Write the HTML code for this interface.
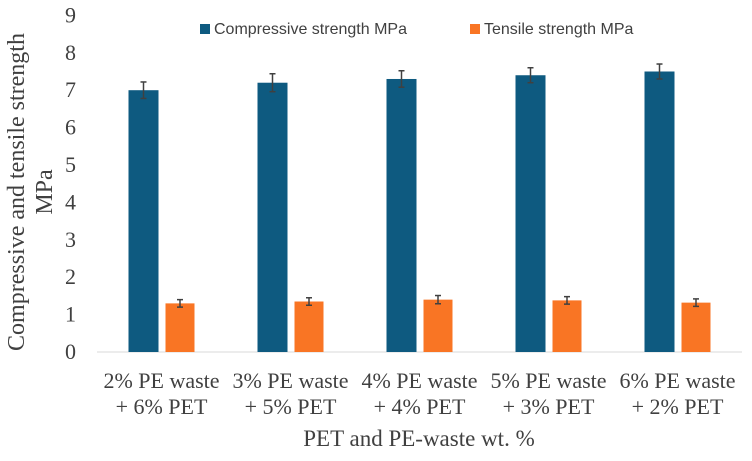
<!DOCTYPE html>
<html><head><meta charset="utf-8"><style>
body{margin:0;background:#fff}
</style></head><body>
<svg id="c" width="752" height="456" font-family="'Liberation Serif', serif"></svg>
<script>
const categories=[["2% PE waste","+ 6% PET"],["3% PE waste","+ 5% PET"],["4% PE waste","+ 4% PET"],["5% PE waste","+ 3% PET"],["6% PE waste","+ 2% PET"]];
const compressive=[7.0,7.2,7.3,7.4,7.5];
const compressiveErr=[0.22,0.24,0.22,0.2,0.2];
const tensile=[1.3,1.35,1.4,1.38,1.32];
const tensileErr=[0.1,0.1,0.11,0.1,0.1];
const yTicks=[0,1,2,3,4,5,6,7,8,9];
const svg=document.getElementById('c');
const NS='http://www.w3.org/2000/svg';
const x0=97,x1=742,y0=352,unit=37.4;
const step=(x1-x0)/categories.length;
const y=v=>y0-v*unit;
const SERIF="'Liberation Serif', serif";
function mk(t,a,p){const e=document.createElementNS(NS,t);for(const k in a)e.setAttribute(k,a[k]);(p||svg).appendChild(e);return e;}
yTicks.forEach(t=>{const e=mk('text',{x:76,y:y(t)+7,'text-anchor':'end','font-size':22,'font-family':SERIF,fill:'#404040'});e.textContent=t;

});
const ax=mk('line',{x1:x0,x2:x1,y1:y0,y2:y0,stroke:'#d9d9d9','stroke-width':1});


function err(cx,v,e){const g=mk('g',{stroke:'#404040','stroke-width':1.5});


mk('line',{x1:cx,x2:cx,y1:y(v+e),y2:y(v-e)},g);mk('line',{x1:cx-3,x2:cx+3,y1:y(v+e),y2:y(v+e)},g);mk('line',{x1:cx-3,x2:cx+3,y1:y(v-e),y2:y(v-e)},g);}
categories.forEach((c,i)=>{const cx=x0+step*(i+0.5);
const b1=mk('rect',{x:cx-33,y:y(compressive[i]),width:30,height:compressive[i]*unit,fill:'#0e5a80'});


const b2=mk('rect',{x:cx+4,y:y(tensile[i]),width:29,height:tensile[i]*unit,fill:'#f97524'});


err(cx-18,compressive[i],compressiveErr[i]);err(cx+18.5,tensile[i],tensileErr[i]);
c.forEach((l,j)=>{const t=mk('text',{x:cx,y:388+j*26,'text-anchor':'middle','font-size':22,'font-family':SERIF,fill:'#404040'});t.textContent=l;

});});
const xt=mk('text',{x:419,y:446,'text-anchor':'middle','font-size':23,'font-family':SERIF,fill:'#404040'});xt.textContent='PET and PE-waste wt. %';


const yt=mk('text',{'text-anchor':'middle','font-size':24,'font-family':SERIF,fill:'#404040',transform:'translate(0,192) rotate(-90)'});


const s1=mk('tspan',{x:0,y:24},yt);s1.textContent='Compressive  and tensile strength';
const s2=mk('tspan',{x:0,y:52},yt);s2.textContent='MPa';
const legend=[['Compressive strength MPa','#0e5a80',200],['Tensile strength MPa','#f97524',470]];
legend.forEach(l=>{const g=mk('g',{});


mk('rect',{x:l[2],y:24,width:10,height:10,fill:l[1]},g);const t=mk('text',{x:l[2]+14,y:34,'font-size':16,'font-family':"'Liberation Sans', sans-serif",fill:'#404040'},g);t.textContent=l[0];});
</script>
</body></html>
